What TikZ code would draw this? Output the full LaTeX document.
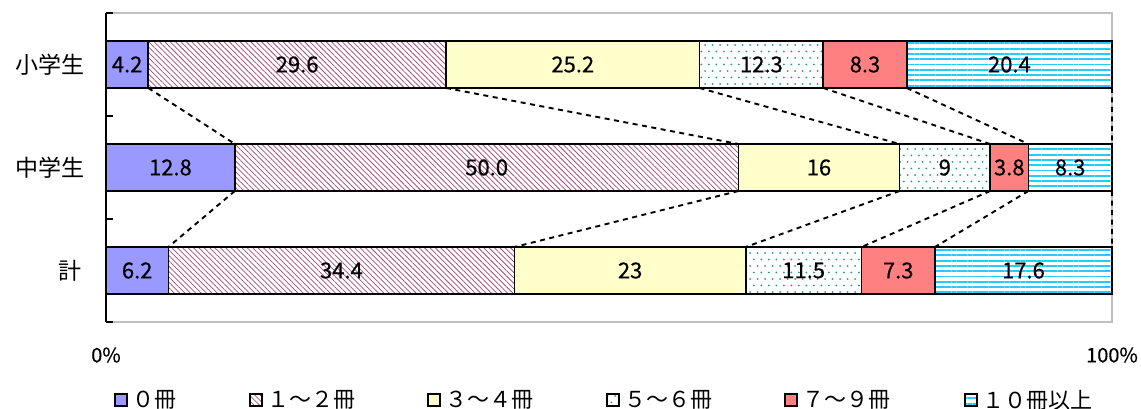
\documentclass[tikz,border=0pt]{standalone}
\usepackage{fontspec}
\setmainfont{Noto Sans CJK JP}
\newfontfamily\numfont{Noto Sans CJK JP}[FakeBold=0.4]
\usetikzlibrary{patterns,patterns.meta}
\definecolor{c0col}{HTML}{9999FF}
\definecolor{c1col}{HTML}{A84A7A}
\definecolor{c2col}{HTML}{FFFFCC}
\definecolor{c3col}{HTML}{229999}
\definecolor{c4col}{HTML}{FF8080}
\definecolor{c5col}{HTML}{22CCFF}
\definecolor{framecol}{HTML}{C0C0C0}
\pgfdeclarepatternformonly{stagdots}{\pgfqpoint{-1.5pt}{-1.5pt}}{\pgfqpoint{9pt}{14.5pt}}{\pgfqpoint{7.5pt}{13pt}}{%
  \pgfpathcircle{\pgfqpoint{0pt}{0pt}}{1pt}%
  \pgfpathcircle{\pgfqpoint{3.75pt}{6.5pt}}{1pt}%
  \pgfusepath{fill}}
\begin{document}
\begin{tikzpicture}[x=1pt,y=-1pt,
  seg/.style={draw=black, line width=1.7pt, minimum height=47pt, inner sep=0pt, outer sep=0pt, anchor=west, font=\numfont\fontsize{22}{26}\selectfont},
  c0/.style={fill=c0col},
  c1/.style={pattern={Lines[angle=-45,distance=3.8pt,line width=0.75pt]}, pattern color=c1col},
  c2/.style={fill=c2col},
  c3/.style={pattern=stagdots, pattern color=c3col},
  c4/.style={fill=c4col},
  c5/.style={pattern={Lines[angle=0,distance=5.3pt,line width=1.9pt]}, pattern color=c5col},
  conn/.style={line width=1.9pt, dash pattern=on 5pt off 4.5pt},
  cat/.style={anchor=east, inner sep=0pt, font=\fontsize{23}{27}\selectfont},
  axl/.style={inner sep=0pt, font=\numfont\fontsize{20}{24}\selectfont},
  legsq/.style={draw=black, line width=1.6pt, minimum size=12pt, inner sep=0pt, outer sep=0pt},
  legtxt/.style={anchor=west, inner sep=0pt, font=\fontsize{22}{26}\selectfont},
]
\useasboundingbox (0,0) rectangle (1141,409);
\fill[white] (0,0) rectangle (1141,409);

% plot frame
\draw[framecol, line width=1.5pt] (106,13) -- (1112,13) -- (1112,322) -- (106,322);
\draw[line width=2pt] (106,13) -- (106,322);
\foreach \yy in {13,116,219,322} \draw[line width=2pt] (106,\yy) -- (113,\yy);

% top bar
\node[seg,c0,minimum width=42.252pt] (t1) at (106,64.5) {4.2};
\node[seg,c1,minimum width=297.776pt] (t2) at (t1.east) {29.6};
\node[seg,c2,minimum width=253.512pt] (t3) at (t2.east) {25.2};
\node[seg,c3,minimum width=123.738pt] (t4) at (t3.east) {12.3};
\node[seg,c4,minimum width=83.498pt] (t5) at (t4.east) {8.3};
\node[seg,c5,minimum width=205.224pt] (t6) at (t5.east) {20.4};

% middle bar
\node[seg,c0,minimum width=128.897pt] (m1) at (106,167.5) {12.8};
\node[seg,c1,minimum width=503.504pt] (m2) at (m1.east) {50.0};
\node[seg,c2,minimum width=161.121pt] (m3) at (m2.east) {16};
\node[seg,c3,minimum width=90.631pt] (m4) at (m3.east) {9};
\node[seg,c4,minimum width=38.266pt] (m5) at (m4.east) {3.8};
\node[seg,c5,minimum width=83.582pt] (m6) at (m5.east) {8.3};

% bottom bar
\node[seg,c0,minimum width=62.372pt] (b1) at (106,270.5) {6.2};
\node[seg,c1,minimum width=346.064pt] (b2) at (b1.east) {34.4};
\node[seg,c2,minimum width=231.38pt] (b3) at (b2.east) {23};
\node[seg,c3,minimum width=115.69pt] (b4) at (b3.east) {11.5};
\node[seg,c4,minimum width=73.438pt] (b5) at (b4.east) {7.3};
\node[seg,c5,minimum width=177.056pt] (b6) at (b5.east) {17.6};

% series lines
\foreach \i in {1,...,6} {
  \draw[conn] (t\i.south east) -- (m\i.north east);
  \draw[conn] (m\i.south east) -- (b\i.north east);
}

% category labels
\node[cat] (ls) at (85,64.5) {小学生};
\node[cat] (lm) at (85,167.5) {中学生};
\node[cat] (lk) at (82,270.5) {計};

% axis labels
\node[axl] (p0) at (106,355) {0\%};
\node[axl] (p100) at (1112,355) {100\%};

% legend
\node[legsq,c0] (k1) at (121,400) {};
\node[legtxt] (l1) at ([xshift=5pt]k1.east) {０冊};
\node[legsq,c1] (k2) at (256,400) {};
\node[legtxt] (l2) at ([xshift=5pt]k2.east) {１～２冊};
\node[legsq,c2] (k3) at (434,400) {};
\node[legtxt] (l3) at ([xshift=5pt]k3.east) {３～４冊};
\node[legsq,c3] (k4) at (613,400) {};
\node[legtxt] (l4) at ([xshift=5pt]k4.east) {５～６冊};
\node[legsq,c4] (k5) at (791,400) {};
\node[legtxt] (l5) at ([xshift=5pt]k5.east) {７～９冊};
\node[legsq,c5] (k6) at (971,400) {};
\node[legtxt] (l6) at ([xshift=5pt]k6.east) {１０冊以上};
\end{tikzpicture}
\end{document}
